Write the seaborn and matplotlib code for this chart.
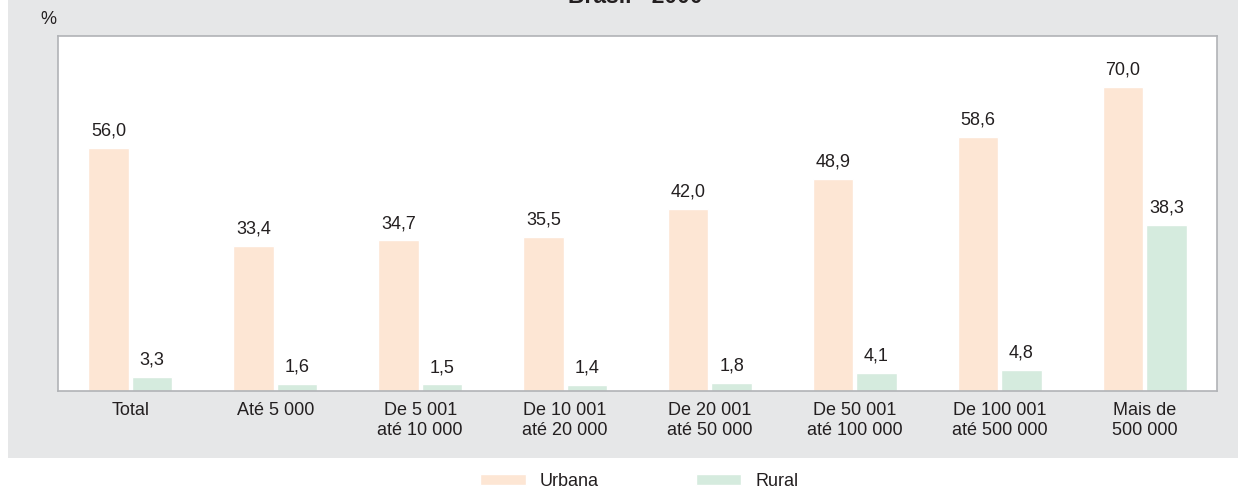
import pandas as pd
import matplotlib.pyplot as plt
import seaborn as sns
from matplotlib.patches import Rectangle

categorias = ['Total', 'Até 5 000', 'De 5 001\naté 10 000', 'De 10 001\naté 20 000',
              'De 20 001\naté 50 000', 'De 50 001\naté 100 000', 'De 100 001\naté 500 000',
              'Mais de\n500 000']
urbana = [56.0, 33.4, 34.7, 35.5, 42.0, 48.9, 58.6, 70.0]
rural = [3.3, 1.6, 1.5, 1.4, 1.8, 4.1, 4.8, 38.3]
series = ['Urbana', 'Rural']
cores = ['#FDE6D4', '#D5EBDE']

data = pd.DataFrame({
    'categoria': categorias * 2,
    'valor': urbana + rural,
    'situacao': [series[0]] * len(urbana) + [series[1]] * len(rural),
})

sns.set_style('white')
plt.rcParams['font.family'] = ['Liberation Sans', 'DejaVu Sans']
fs = 13
tc = '#231F20'

fig = plt.figure(figsize=(12.45, 4.9), dpi=100)
W, H = 1245, 490

# grey panel behind the chart
fig.patches.append(Rectangle((8 / W, 1 - 458 / H), 1230 / W, 458 / H,
                             transform=fig.transFigure, facecolor='#E6E7E8',
                             edgecolor='none', zorder=-5))

ax = fig.add_axes([58 / W, 1 - 391 / H, (1217 - 58) / W, (391 - 36) / H])
ax.set_zorder(2)
ax.set_facecolor('white')

sns.barplot(data=data, x='categoria', y='valor', hue='situacao',
            palette=cores, saturation=1, width=0.6, gap=0.07, ax=ax, legend=True)

for cont, vals in zip(ax.containers, [urbana, rural]):
    ax.bar_label(cont, labels=[f'{v:.1f}'.replace('.', ',') for v in vals],
                 padding=6, fontsize=fs, color=tc)

ax.set_ylim(0, 81.8)
ax.set_xlim(-0.5, len(categorias) - 0.5)
ax.set_yticks([])
ax.set_xlabel('')
ax.set_ylabel('')
ax.set_xticks(range(len(categorias)))
ax.set_xticklabels(categorias, fontsize=fs, color=tc, linespacing=1.25)
ax.tick_params(axis='x', which='major', length=0, pad=8)
ax.set_xticks([i - 0.5 for i in range(len(categorias) + 1)], minor=True)
ax.tick_params(axis='x', which='minor', length=8, width=1, color='#A7A9AC', direction='out')

for s in ax.spines.values():
    s.set_visible(True)
    s.set_color('#B1B3B6')
    s.set_linewidth(1.2)

leg = ax.legend(loc='center', bbox_to_anchor=(0.5017, -0.255), ncol=2, frameon=False,
                fontsize=fs, handlelength=2.5, handleheight=0.6, columnspacing=5.4,
                handletextpad=0.78, borderpad=0.2)
for t in leg.get_texts():
    t.set_color(tc)

fig.text(48 / W, 1 - 20 / H, '%', fontsize=fs, color=tc, ha='center', va='center')
fig.text(635 / W, 1 - 3 / H, 'Brasil - 2000', fontsize=16.5, fontweight='bold',
         color=tc, ha='center', va='baseline')

fig.savefig('out.png', dpi=100, facecolor='white')
